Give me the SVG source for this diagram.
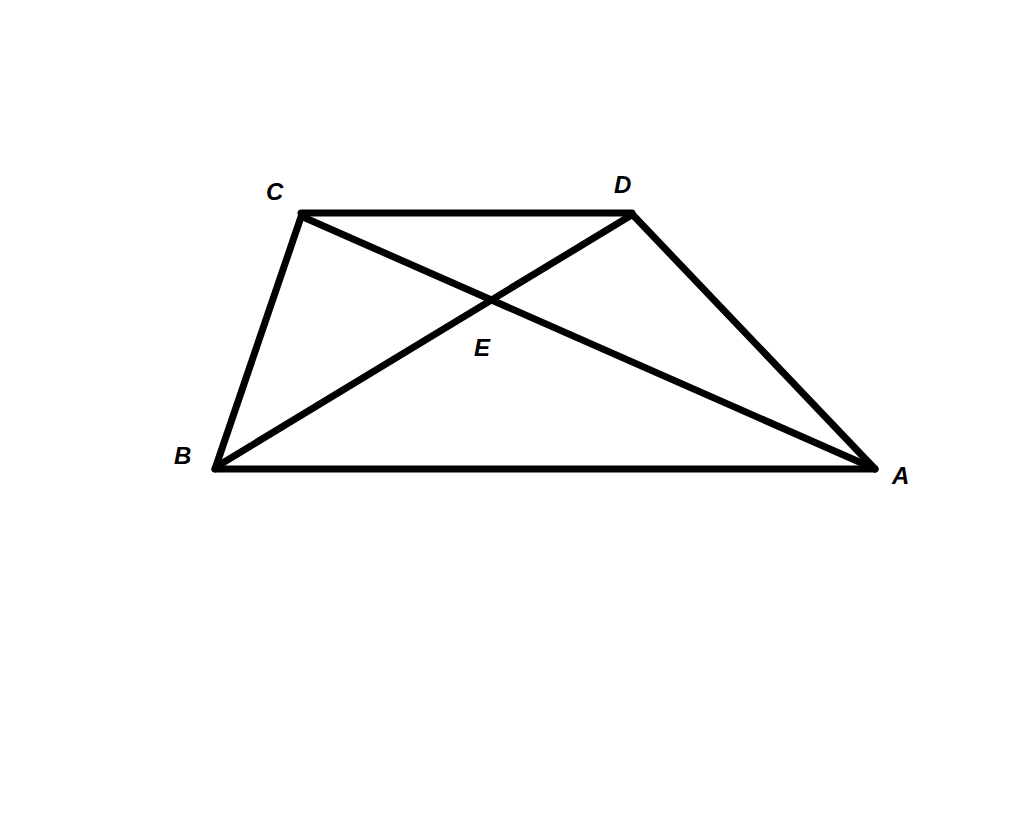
<svg xmlns="http://www.w3.org/2000/svg" width="1024" height="816" viewBox="0 0 1024 816">
<style>
.edge{stroke:#000;stroke-width:7;stroke-linecap:round;fill:none}
.lbl{font-family:"Liberation Sans",Arial,sans-serif;font-size:24px;font-style:italic;font-weight:bold;fill:#000}
</style>
<rect width="1024" height="816" fill="#fff"/>
<g id="connectors">
<line class="edge" x1="301" y1="213" x2="632" y2="213"/>
<line class="edge" x1="215" y1="469" x2="875" y2="469"/>
<line class="edge" x1="302" y1="214" x2="215" y2="469"/>
<line class="edge" x1="632" y1="214" x2="875" y2="469"/>
<line class="edge" x1="303" y1="217" x2="873" y2="468"/>
<line class="edge" x1="630" y1="216" x2="216" y2="467"/>
</g>
<g id="node-C"><text class="lbl" x="266" y="200">C</text></g>
<g id="node-D"><text class="lbl" x="614" y="193">D</text></g>
<g id="node-E"><text class="lbl" x="474" y="356">E</text></g>
<g id="node-B"><text class="lbl" x="174" y="464">B</text></g>
<g id="node-A"><text class="lbl" x="892" y="484">A</text></g>
</svg>
